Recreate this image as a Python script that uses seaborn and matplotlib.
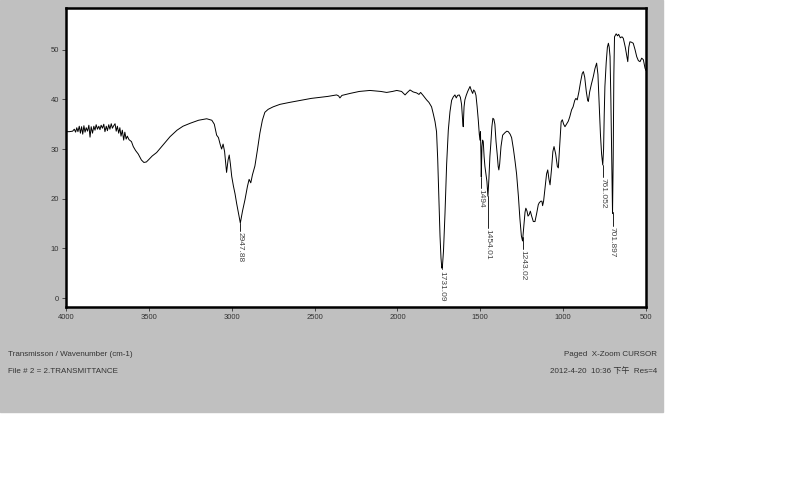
import numpy as np
import pandas as pd
import seaborn as sns
import matplotlib
from matplotlib import pyplot as plt
from matplotlib.patches import Rectangle

sns.set_style('ticks')
plt.rcParams['font.family'] = ['Liberation Sans', 'Noto Sans CJK SC', 'DejaVu Sans']

# spectrum: wavenumber (cm-1) and transmittance
wavenumber = [4000, 3980, 3960, 3950, 3942, 3935, 3928, 3920, 3913, 3906, 3899, 3892, 3885, 3878,
              3870, 3862, 3855, 3848, 3840, 3832, 3825, 3818, 3810, 3802, 3795, 3788, 3780, 3772,
              3765, 3757, 3750, 3742, 3735, 3727, 3720, 3712, 3704, 3697, 3690, 3682, 3675, 3668,
              3660, 3652, 3645, 3637, 3630, 3620, 3605, 3594, 3580, 3564, 3545, 3530, 3515, 3500,
              3480, 3453, 3420, 3372, 3330, 3294, 3250, 3200, 3151, 3120, 3105, 3091, 3080, 3070,
              3061, 3052, 3043, 3031, 3022, 3015, 3008, 3000, 2990, 2980, 2970, 2960, 2948, 2935,
              2920, 2905, 2895, 2885, 2875, 2860, 2845, 2830, 2815, 2800, 2780, 2750, 2709, 2650,
              2600, 2568, 2520, 2470, 2420, 2367, 2355, 2347, 2335, 2286, 2230, 2166, 2100, 2065,
              2030, 2004, 1975, 1954, 1940, 1924, 1905, 1884, 1870, 1860, 1845, 1824, 1810, 1794,
              1783, 1773, 1764, 1757, 1750, 1743, 1737, 1733, 1731, 1728, 1722, 1713, 1703, 1693,
              1683, 1673, 1663, 1653, 1645, 1637, 1627, 1620, 1613, 1606, 1603, 1598, 1593, 1585,
              1576, 1568, 1562, 1554, 1546, 1540, 1533, 1526, 1519, 1512, 1506, 1502, 1499, 1496,
              1494, 1490, 1486, 1482, 1477, 1472, 1466, 1460, 1454, 1448, 1442, 1437, 1430, 1424,
              1418, 1412, 1405, 1398, 1392, 1388, 1383, 1375, 1365, 1351, 1340, 1331, 1320, 1311,
              1300, 1290, 1281, 1270, 1261, 1252, 1245, 1240, 1235, 1230, 1225, 1218, 1212, 1205,
              1198, 1190, 1180, 1170, 1160, 1150, 1144, 1135, 1128, 1124, 1118, 1110, 1100, 1093,
              1086, 1079, 1070, 1062, 1055, 1045, 1035, 1029, 1020, 1012, 1005, 997, 989, 980,
              969, 960, 949, 940, 930, 923, 915, 905, 895, 885, 878, 870, 860, 852,
              848, 840, 830, 818, 808, 798, 790, 782, 775, 768, 761, 756, 752, 748,
              740, 733, 727, 722, 717, 712, 707, 702, 698, 694, 690, 680, 672, 665,
              655, 645, 637, 625, 615, 610, 604, 597, 587, 577, 566, 556, 546, 536,
              526, 516, 510, 506, 500]
transmittance = [33.5, 33.5, 33.6, 34.0, 33.4, 34.3, 33.5, 34.6, 33.2, 34.5, 33.0, 34.7, 33.4, 34.3,
                 33.6, 34.8, 32.4, 34.5, 33.2, 34.6, 33.8, 34.9, 34.0, 34.6, 33.9, 34.8, 34.2, 35.0,
                 33.5, 34.6, 33.7, 34.9, 34.0, 35.1, 34.2, 34.7, 35.1, 33.6, 34.6, 33.2, 34.3, 32.6,
                 33.8, 31.8, 33.4, 32.0, 32.6, 31.9, 31.5, 30.5, 29.7, 29.0, 27.8, 27.3, 27.4, 27.9,
                 28.6, 29.3, 30.6, 32.5, 33.8, 34.6, 35.2, 35.8, 36.1, 35.8, 35.0, 32.8, 32.3, 31.0,
                 30.0, 31.0, 29.5, 25.3, 27.8, 28.8, 27.0, 24.5, 22.6, 21.0, 19.0, 17.2, 15.1, 17.5,
                 19.8, 22.5, 23.9, 23.2, 24.8, 26.6, 29.8, 33.2, 35.8, 37.4, 38.0, 38.5, 39.0, 39.4,
                 39.7, 39.9, 40.2, 40.4, 40.6, 40.9, 40.7, 40.3, 40.8, 41.2, 41.6, 41.8, 41.6, 41.4,
                 41.6, 41.8, 41.6, 40.9, 41.4, 41.9, 41.5, 41.3, 41.0, 41.4, 40.8, 39.9, 39.4, 38.5,
                 37.0, 35.5, 33.5, 28.0, 20.0, 12.5, 8.0, 6.4, 6.0, 6.6, 9.5, 17.0, 27.0, 33.8,
                 37.5, 39.8, 40.5, 40.9, 40.3, 40.8, 40.9, 40.4, 39.0, 35.5, 34.5, 38.5, 39.9, 40.8,
                 41.6, 42.2, 42.6, 41.8, 41.2, 41.9, 41.6, 40.8, 38.5, 35.8, 33.0, 31.8, 33.5, 29.0,
                 24.4, 30.5, 31.8, 31.5, 28.5, 26.5, 25.0, 23.5, 20.5, 24.0, 28.5, 30.8, 34.5, 36.2,
                 36.0, 35.0, 31.5, 29.0, 26.5, 25.8, 27.0, 30.5, 32.8, 33.3, 33.6, 33.5, 33.0, 32.3,
                 30.0, 27.5, 25.0, 20.5, 16.0, 12.5, 11.5, 13.5, 15.5, 17.3, 18.1, 17.5, 16.5, 16.8,
                 17.5, 16.5, 15.4, 15.4, 17.0, 18.8, 19.2, 19.5, 19.5, 18.6, 19.5, 22.0, 25.0, 25.8,
                 24.0, 22.8, 26.0, 29.5, 30.5, 29.0, 26.5, 26.2, 31.0, 35.5, 35.9, 35.0, 34.5, 35.0,
                 35.6, 36.5, 37.9, 38.5, 39.8, 40.2, 39.9, 41.5, 43.5, 45.2, 45.6, 44.5, 41.5, 39.8,
                 39.6, 41.5, 43.0, 44.6, 46.2, 47.3, 45.0, 38.6, 33.0, 29.0, 26.8, 30.0, 37.0, 42.6,
                 47.5, 50.5, 51.3, 50.5, 48.6, 40.0, 28.0, 17.0, 28.0, 45.0, 52.6, 53.2, 52.8, 53.1,
                 52.4, 52.6, 52.3, 50.5, 48.5, 47.6, 50.5, 51.6, 51.5, 51.3, 50.0, 48.6, 47.8, 47.6,
                 48.3, 48.0, 47.0, 46.3, 45.8]

# labelled peaks
peak_wn = [2947.88, 1731.09, 1494, 1454.01, 1243.02, 761.052, 701.897]
peak_text = ['2947.88', '1731.09', '1494', '1454.01', '1243.02', '761.052', '701.897']
peak_drop = [1.6, 0.2, 2.2, 6.4, 2.4, 2.4, 2.7]

xticks = [4000, 3500, 3000, 2500, 2000, 1500, 1000, 500]
yticks = [0, 10, 20, 30, 40, 50]

df = pd.DataFrame({'wn': wavenumber, 'T': transmittance})

fig = plt.figure(figsize=(8, 4.98), dpi=100, facecolor='white')
fig.patches.append(Rectangle((0, 1 - 412 / 498), 663 / 800, 412 / 498,
                             transform=fig.transFigure, color='#c0c0c0', zorder=-5))

ax = fig.add_axes([66 / 800, 1 - 307 / 498, 580 / 800, 299 / 498])
ax.set_zorder(2)
ax.set_facecolor('white')
sns.lineplot(data=df, x='wn', y='T', ax=ax, color='black', lw=0.7,
             sort=False, estimator=None)

ax.set_xlim(4000, 500)
ax.set_ylim(-1.8, 58.4)
ax.set_xticks(xticks)
ax.set_yticks(yticks)
ax.set_xlabel('')
ax.set_ylabel('')
ax.tick_params(labelsize=5.5, colors='#333333', length=3, width=0.6, direction='out', pad=2)
for s in ax.spines.values():
    s.set_visible(True)
    s.set_linewidth(1.8)
    s.set_color('black')

wn_sorted = np.array(wavenumber[::-1])
t_sorted = np.array(transmittance[::-1])
for w, txt, d in zip(peak_wn, peak_text, peak_drop):
    tmin = np.interp(w, wn_sorted, t_sorted)
    ax.plot([w, w], [tmin, tmin - d], color='black', lw=0.6)
    ax.text(w, tmin - d - 0.3, txt, rotation=270, ha='center', va='top',
            fontsize=6.0, color='#444444')

fig.text(8 / 800, 1 - 354 / 498, 'Transmisson / Wavenumber (cm-1)', fontsize=5.8,
         color='#333333', va='center', ha='left')
fig.text(8 / 800, 1 - 371 / 498, 'File # 2 = 2.TRANSMITTANCE', fontsize=5.8,
         color='#333333', va='center', ha='left')
fig.text(657 / 800, 1 - 354 / 498, 'Paged  X-Zoom CURSOR', fontsize=5.8,
         color='#333333', va='center', ha='right')
fig.text(657 / 800, 1 - 371 / 498, '2012-4-20  10:36 下午  Res=4', fontsize=5.8,
         color='#333333', va='center', ha='right')

plt.savefig('out.png', dpi=100, facecolor='white')
